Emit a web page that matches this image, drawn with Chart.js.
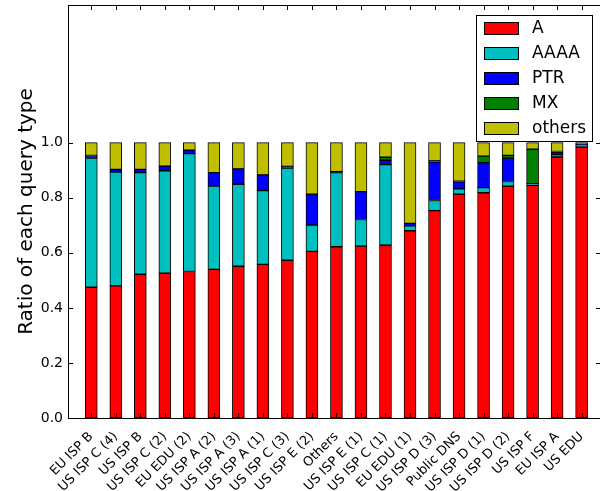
<!DOCTYPE html>
<html>
<head>
<meta charset="utf-8">
<script src="https://cdn.jsdelivr.net/npm/chart.js@4.4.1/dist/chart.umd.min.js"></script>
<style>
  html, body { margin: 0; padding: 0; background: #fff; }
  #wrap { width: 600px; height: 491px; }
</style>
</head>
<body>
<div id="wrap"><canvas id="queryChart" width="600" height="491"></canvas></div>
<script>
var categories = ['EU ISP B', 'US ISP C (4)', 'US ISP B', 'US ISP C (2)', 'EU EDU (2)', 'US ISP A (2)',
  'US ISP A (3)', 'US ISP A (1)', 'US ISP C (3)', 'US ISP E (2)', 'Others', 'US ISP E (1)',
  'US ISP C (1)', 'EU EDU (1)', 'US ISP D (3)', 'Public DNS', 'US ISP D (1)', 'US ISP D (2)',
  'US ISP F', 'EU ISP A', 'US EDU'];

var aVals     = [0.475, 0.480, 0.522, 0.526, 0.532, 0.540, 0.551, 0.558, 0.573, 0.605, 0.622, 0.624, 0.628, 0.680, 0.753, 0.813, 0.818, 0.842, 0.845, 0.948, 0.984];
var aaaaVals  = [0.469, 0.413, 0.369, 0.372, 0.428, 0.302, 0.298, 0.268, 0.335, 0.096, 0.269, 0.097, 0.292, 0.018, 0.037, 0.019, 0.019, 0.017, 0.003, 0.008, 0.009];
var ptrVals   = [0.008, 0.010, 0.012, 0.017, 0.013, 0.049, 0.056, 0.057, 0.006, 0.112, 0.004, 0.101, 0.016, 0.009, 0.140, 0.026, 0.090, 0.085, 0.003, 0.010, 0.003];
var mxVals    = [0.002, 0, 0, 0, 0, 0, 0, 0, 0, 0, 0, 0, 0.011, 0, 0.004, 0.002, 0.024, 0.010, 0.125, 0.002, 0];
var otherVals = [0.046, 0.097, 0.097, 0.085, 0.027, 0.109, 0.095, 0.117, 0.086, 0.187, 0.105, 0.178, 0.053, 0.293, 0.066, 0.140, 0.049, 0.046, 0.024, 0.032, 0.004];

var yTicks = [0.0, 0.2, 0.4, 0.6, 0.8, 1.0];

var FONT = 'DejaVu Sans';

function points(vals) {
  return vals.map(function (v, i) { return { x: i, y: v }; });
}

function series(label, vals, color) {
  return {
    label: label,
    data: points(vals),
    backgroundColor: color,
    borderColor: '#000',
    borderWidth: 1,
    borderSkipped: false,
    barThickness: 12
  };
}

// matplotlib-style frame, inward ticks and boxed legend
var framePlugin = {
  id: 'frame',
  afterDatasetsDraw: function (chart) {
    var ctx = chart.ctx;
    var a = chart.chartArea;
    var xs = chart.scales.x, ys = chart.scales.y;
    ctx.save();
    ctx.strokeStyle = '#000';
    ctx.lineWidth = 1;
    ctx.beginPath();
    ctx.moveTo(Math.round(a.left) + 0.5, a.top);
    ctx.lineTo(Math.round(a.left) + 0.5, a.bottom);
    ctx.moveTo(a.left, Math.round(a.top) + 0.5);
    ctx.lineTo(a.right, Math.round(a.top) + 0.5);
    ctx.moveTo(a.left, Math.round(a.bottom) + 0.5);
    ctx.lineTo(a.right, Math.round(a.bottom) + 0.5);
    var t = 5;
    yTicks.forEach(function (v) {
      var y = Math.round(ys.getPixelForValue(v)) + 0.5;
      ctx.moveTo(a.left, y); ctx.lineTo(a.left + t, y);
      ctx.moveTo(a.right, y); ctx.lineTo(a.right - 4, y);
    });
    categories.forEach(function (c, i) {
      var x = Math.round(xs.getPixelForValue(i)) + 0.5;
      ctx.moveTo(x, a.bottom); ctx.lineTo(x, a.bottom - t);
      ctx.moveTo(x, a.top); ctx.lineTo(x, a.top + t);
    });
    ctx.stroke();

    // legend
    var ds = chart.data.datasets;
    var boxR = a.right - 8, boxT = a.top + 10;
    var boxW = 116, rowH = 25;
    var boxH = ds.length * rowH + 1;
    var boxL = boxR - boxW;
    ctx.fillStyle = '#fff';
    ctx.fillRect(boxL, boxT, boxW, boxH);
    ctx.strokeRect(Math.round(boxL) + 0.5, Math.round(boxT) + 0.5, boxW, boxH);
    ctx.font = '17px "' + FONT + '"';
    ctx.textBaseline = 'middle';
    ds.forEach(function (d, i) {
      var cy = boxT + 13 + i * rowH;
      ctx.fillStyle = d.backgroundColor;
      ctx.fillRect(boxL + 8, cy - 6, 34, 12);
      ctx.strokeRect(Math.round(boxL + 8) + 0.5, Math.round(cy - 6) + 0.5, 34, 12);
      ctx.fillStyle = '#000';
      ctx.fillText(d.label, boxL + 56, cy + 1);
    });
    ctx.restore();
  }
};

new Chart(document.getElementById('queryChart').getContext('2d'), {
  type: 'bar',
  data: {
    datasets: [
      series('A', aVals, '#FF0000'),
      series('AAAA', aaaaVals, '#00BFBF'),
      series('PTR', ptrVals, '#0000FF'),
      series('MX', mxVals, '#008000'),
      series('others', otherVals, '#BFBF00')
    ]
  },
  options: {
    responsive: false,
    animation: false,
    devicePixelRatio: 1,
    layout: { padding: { top: 5, right: 0, left: 0, bottom: 0 } },
    plugins: {
      legend: { display: false },
      tooltip: { enabled: false }
    },
    scales: {
      x: {
        type: 'linear',
        stacked: true,
        min: -0.95,
        max: 20.75,
        offset: false,
        grid: { display: false },
        border: { display: false },
        afterBuildTicks: function (scale) {
          scale.ticks = categories.map(function (c, i) { return { value: i }; });
        },
        afterFit: function (scale) {
          scale.height = 73;
          scale.paddingLeft = 0;
          scale.paddingRight = 0;
        },
        ticks: {
          autoSkip: false,
          maxRotation: 45,
          minRotation: 45,
          padding: 3,
          color: '#000',
          font: { family: FONT, size: 13 },
          callback: function (v) { return categories[v]; }
        }
      },
      y: {
        stacked: true,
        min: 0,
        max: 1.5,
        grid: { display: false, drawTicks: false },
        border: { display: false },
        afterBuildTicks: function (scale) {
          scale.ticks = yTicks.map(function (v) { return { value: v }; });
        },
        afterFit: function (scale) {
          scale.width = 68;
          scale.paddingTop = 0;
          scale.paddingBottom = 0;
        },
        ticks: {
          padding: 5,
          color: '#000',
          font: { family: FONT, size: 14 },
          callback: function (v) { return v.toFixed(1); }
        },
        title: {
          display: true,
          text: 'Ratio of each query type',
          color: '#000',
          font: { family: FONT, size: 20 },
          padding: { top: 15, bottom: 0 }
        }
      }
    }
  },
  plugins: [framePlugin]
});
</script>
</body>
</html>
